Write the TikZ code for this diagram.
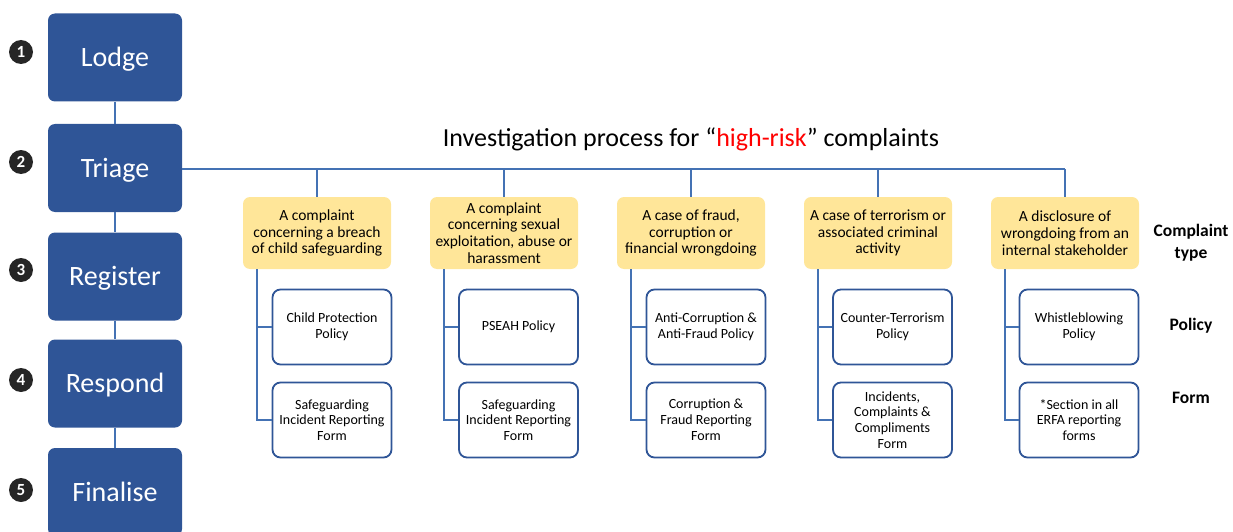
\documentclass[tikz,border=0pt]{standalone}
\usepackage{fontspec}
\setmainfont{Carlito}
\definecolor{stageblue}{RGB}{47,85,151}
\definecolor{linkblue}{RGB}{68,114,180}
\definecolor{boxblue}{RGB}{47,85,151}
\definecolor{gold}{RGB}{255,230,153}
\definecolor{numdark}{RGB}{38,38,38}
\definecolor{hired}{RGB}{255,0,0}
\begin{document}
\begin{tikzpicture}[x=1pt,y=-1pt,
  stage/.style={fill=stageblue, draw=none, rounded corners=7pt, minimum width=134pt, minimum height=88pt,
    text=white, font=\fontsize{28}{32}\selectfont, text height=18pt, text depth=0pt, inner sep=0pt},
  numc/.style={circle, fill=numdark, minimum size=24pt, inner sep=0pt, text=white,
    font=\bfseries\fontsize{17}{18}\selectfont},
  ctype/.style={fill=gold, draw=none, rounded corners=7pt, minimum width=148pt, minimum height=72pt,
    align=center, inner sep=0pt, font=\fontsize{15.5}{16.7}\selectfont},
  doc/.style={draw=boxblue, line width=1.8pt, fill=white, rounded corners=8pt, minimum width=119pt, minimum height=75pt,
    align=center, inner sep=0pt, font=\fontsize{14}{15.8}\selectfont},
  link/.style={draw=linkblue, line width=1.6pt},
  rowlab/.style={font=\bfseries\fontsize{17.5}{22}\selectfont, align=center, inner sep=0pt}
]
\useasboundingbox (0,0) rectangle (1233,532);

% stages
\node[stage] (lodge) at (115,57.5) {Lodge};
\node[stage] (triage) at (115,168) {Triage};
\node[stage] (register) at (115,276.5) {Register};
\node[stage] (respond) at (115,383.5) {Respond};
\node[stage] (finalise) at (115,492) {Finalise};

\draw[link] (lodge.south) -- (triage.north);
\draw[link] (triage.south) -- (register.north);
\draw[link] (register.south) -- (respond.north);
\draw[link] (respond.south) -- (finalise.north);

\node[numc] (n1) at (21,52) {1};
\node[numc] (n2) at (21,162) {2};
\node[numc] (n3) at (21,270) {3};
\node[numc] (n4) at (21,380) {4};
\node[numc] (n5) at (21,490) {5};

% title
\node[font=\fontsize{26}{30}\selectfont, text height=16.5pt, text depth=0pt, inner sep=0pt] (title) at (691,138)
  {Investigation process for “\textcolor{hired}{high-risk}” complaints};

% complaint types
\node[ctype] (c1) at (317,233) {A complaint\\concerning a breach\\of child safeguarding};
\node[ctype] (c2) at (504,233) {A complaint\\concerning sexual\\exploitation, abuse or\\harassment};
\node[ctype] (c3) at (691,233) {A case of fraud,\\corruption or\\financial wrongdoing};
\node[ctype] (c4) at (878,233) {A case of terrorism or\\associated criminal\\activity};
\node[ctype] (c5) at (1065,233) {A disclosure of\\wrongdoing from an\\internal stakeholder};

% bus
\coordinate (busend) at (1065,169);
\draw[link] (triage.east |- 0,169) -- (busend);
\foreach \c in {c1,c2,c3,c4,c5} {
  \draw[link] (\c.north |- 0,169) -- (\c.north);
}

% policies and forms
\node[doc] (p1) at (332,327) {Child Protection\\Policy};
\node[doc] (f1) at (332,420) {Safeguarding\\Incident Reporting\\Form};
\node[doc] (p2) at (518.5,327) {PSEAH Policy};
\node[doc] (f2) at (518.5,420) {Safeguarding\\Incident Reporting\\Form};
\node[doc] (p3) at (706,327) {Anti-Corruption \&\\Anti-Fraud Policy};
\node[doc] (f3) at (706,420) {Corruption \&\\Fraud Reporting\\Form};
\node[doc] (p4) at (892.5,327) {Counter-Terrorism\\Policy};
\node[doc] (f4) at (892.5,420) {Incidents,\\Complaints \&\\Compliments\\Form};
\node[doc] (p5) at (1079,327) {Whistleblowing\\Policy};
\node[doc] (f5) at (1079,420) {*Section in all\\ERFA reporting\\forms};

\foreach \i in {1,...,5} {
  \draw[link] ([xshift=14pt]c\i.south west) |- (f\i.west);
  \draw[link] ([xshift=14pt]c\i.south west |- p\i.west) -- (p\i.west);
}

% row labels
\node[rowlab] (lt) at (1191,243) {Complaint\\type};
\node[rowlab, text height=11.5pt, text depth=0pt] (lp) at (1191,325) {Policy};
\node[rowlab, text height=11.5pt, text depth=0pt] (lf) at (1191,398) {Form};
\end{tikzpicture}
\end{document}
